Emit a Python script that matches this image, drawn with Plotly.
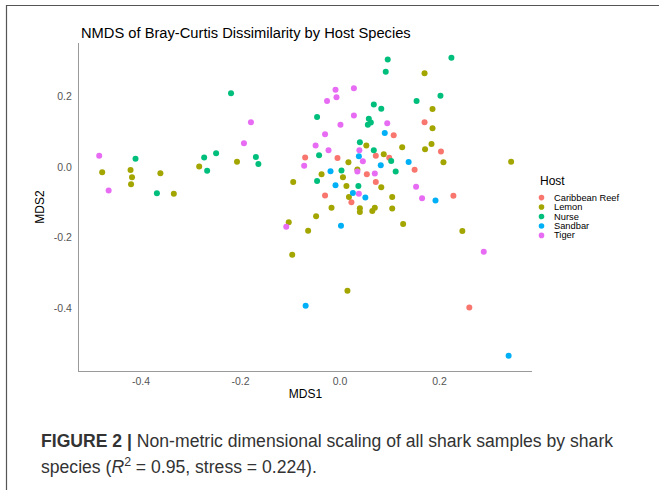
import plotly.graph_objects as go

hosts = ["Caribbean Reef", "Lemon", "Nurse", "Sandbar", "Tiger"]
colors = ["#F8766D", "#A3A500", "#00BF7D", "#00B0F6", "#E76BF3"]

caribbean_x = [0.170, 0.108, 0.203, -0.070, -0.005, 0.072, 0.099, 0.150, 0.054, 0.072, -0.030, 0.228, 0.023, 0.260]
caribbean_y = [0.128, 0.091, 0.045, 0.028, 0.026, 0.033, 0.027, -0.007, -0.020, -0.042, -0.080, -0.081, -0.099, -0.398]

lemon_x = [-0.478, -0.421, -0.418, -0.420, -0.361, -0.334, -0.283, -0.207, 0.170, 0.186, 0.186, 0.053, 0.125, 0.171,
           0.184, 0.088, 0.208, 0.344, 0.017, -0.037, 0.035, 0.006, -0.094, 0.013, 0.083, 0.018, 0.105, -0.017,
           0.040, 0.040, 0.065, 0.070, 0.105, -0.048, -0.103, 0.127, -0.064, 0.246, -0.096, 0.015]
lemon_y = [-0.014, -0.008, -0.028, -0.048, -0.017, -0.075, 0.002, 0.016, 0.267, 0.165, 0.111, 0.062, 0.057, 0.051,
           0.066, 0.037, 0.014, 0.016, 0.014, -0.020, -0.006, -0.028, -0.042, -0.053, -0.057, -0.084, -0.084, -0.115,
           -0.116, -0.127, -0.124, -0.115, -0.117, -0.139, -0.156, -0.161, -0.180, -0.181, -0.248, -0.350]

nurse_x = [-0.411, -0.368, -0.273, -0.267, -0.249, -0.169, -0.164, -0.219, 0.096, 0.224, 0.092, 0.202, 0.154, 0.068,
           0.083, -0.046, 0.058, 0.062, 0.056, 0.040, 0.068, -0.042, 0.103, 0.112, 0.003, -0.046, 0.037]
nurse_y = [0.024, -0.074, 0.028, -0.010, 0.040, 0.029, 0.009, 0.210, 0.306, 0.311, 0.271, 0.203, 0.188, 0.178,
           0.166, 0.143, 0.138, 0.127, 0.121, 0.071, 0.048, 0.034, 0.018, -0.012, -0.009, -0.039, -0.053]

sandbar_x = [0.090, 0.038, 0.138, 0.082, -0.019, -0.009, 0.026, 0.051, 0.192, 0.002, -0.069, 0.339]
sandbar_y = [0.097, 0.031, 0.015, 0.006, -0.011, -0.051, -0.073, -0.086, -0.094, -0.166, -0.393, -0.535]

tiger_x = [-0.484, -0.465, -0.193, -0.179, -0.009, 0.028, -0.026, -0.007, 0.028, 0.001, 0.095, -0.030, -0.049,
           -0.023, 0.039, -0.072, 0.046, 0.035, 0.070, 0.153, 0.038, 0.165, -0.108, 0.289]
tiger_y = [0.033, -0.066, 0.068, 0.128, 0.220, 0.224, 0.188, 0.199, 0.147, 0.121, 0.125, 0.094, 0.062,
           0.048, 0.048, 0.004, 0.017, -0.012, -0.018, -0.055, -0.075, -0.088, -0.169, -0.240]

xs = [caribbean_x, lemon_x, nurse_x, sandbar_x, tiger_x]
ys = [caribbean_y, lemon_y, nurse_y, sandbar_y, tiger_y]

x_ticks = [-0.4, -0.2, 0.0, 0.2]
x_ticklabels = ["-0.4", "-0.2", "0.0", "0.2"]
y_ticks = [-0.4, -0.2, 0.0, 0.2]
y_ticklabels = ["-0.4", "-0.2", "0.0", "0.2"]

FONT = "Liberation Sans, Arial, Helvetica, sans-serif"

fig = go.Figure()
for h, c, x, y in zip(hosts, colors, xs, ys):
    fig.add_trace(go.Scatter(x=x, y=y, mode="markers", name=h,
                             marker=dict(color=c, size=6, line=dict(width=0)),
                             showlegend=False))

W, H = 659, 490
L, R, T, B = 79, 532, 43, 371


def px(xp):
    return (xp - L) / (R - L)


def py(yp):
    return (B - yp) / (B - T)


annotations = []
# title
annotations.append(dict(text="NMDS of Bray-Curtis Dissimilarity by Host Species", xref="paper", yref="paper",
                        x=px(79), y=py(33), xanchor="left", yanchor="middle", showarrow=False,
                        font=dict(family=FONT, size=14.7, color="#000000")))
# legend
annotations.append(dict(text="Host", xref="paper", yref="paper", x=px(538), y=py(180.5),
                        xanchor="left", yanchor="middle", showarrow=False,
                        font=dict(family=FONT, size=12, color="#000000")))
shapes = []
leg_y = [197.6, 207.05, 216.5, 225.95, 235.4]
for h, c, ly in zip(hosts, colors, leg_y):
    annotations.append(dict(text=h, xref="paper", yref="paper", x=px(551.5), y=py(ly),
                            xanchor="left", yanchor="middle", showarrow=False,
                            font=dict(family=FONT, size=9.3, color="#000000")))
    shapes.append(dict(type="circle", xref="paper", yref="paper", xsizemode="pixel", ysizemode="pixel",
                       xanchor=px(541.5), yanchor=py(ly), x0=-2.8, x1=2.8, y0=-2.8, y1=2.8,
                       fillcolor=c, line=dict(width=0)))
# caption
annotations.append(dict(text="<b>FIGURE 2 |</b> Non-metric dimensional scaling of all shark samples by shark",
                        xref="paper", yref="paper", x=px(39), y=py(441), xanchor="left", yanchor="middle",
                        showarrow=False, font=dict(family=FONT, size=17.6, color="#333333")))
annotations.append(dict(text="species (<i>R</i><sup>2</sup> = 0.95, stress = 0.224).",
                        xref="paper", yref="paper", x=px(39), y=py(466), xanchor="left", yanchor="middle",
                        showarrow=False, font=dict(family=FONT, size=17.6, color="#333333")))
# figure frame (top and left)
shapes.append(dict(type="line", xref="paper", yref="paper", x0=px(6), x1=px(700), y0=py(5.5), y1=py(5.5),
                   line=dict(color="#555555", width=1.2)))
shapes.append(dict(type="line", xref="paper", yref="paper", x0=px(6.5), x1=px(6.5), y0=py(5), y1=py(520),
                   line=dict(color="#555555", width=1.2)))

fig.update_layout(
    width=W, height=H,
    margin=dict(l=L, r=W - R, t=T, b=H - B),
    paper_bgcolor="white", plot_bgcolor="white",
    annotations=annotations, shapes=shapes,
    xaxis=dict(range=[-0.5246, 0.386], tickvals=x_ticks, ticktext=x_ticklabels,
               showgrid=False, zeroline=False, showline=True, linecolor="#9a9a9a", linewidth=1,
               ticks="", tickfont=dict(family=FONT, size=10.5, color="#555555"),
               title=dict(text="MDS1", font=dict(family=FONT, size=12, color="#000000"), standoff=4)),
    yaxis=dict(range=[-0.578, 0.3526], tickvals=y_ticks, ticktext=y_ticklabels,
               showgrid=False, zeroline=False, showline=True, linecolor="#9a9a9a", linewidth=1,
               ticks="", ticklabelstandoff=4, tickfont=dict(family=FONT, size=10.5, color="#555555"),
               title=dict(text="MDS2", font=dict(family=FONT, size=12, color="#000000"), standoff=6)),
)

fig.write_html("out.html", config={"displayModeBar": False},
               post_script="document.body.style.margin='0';document.body.style.overflow='hidden';")
